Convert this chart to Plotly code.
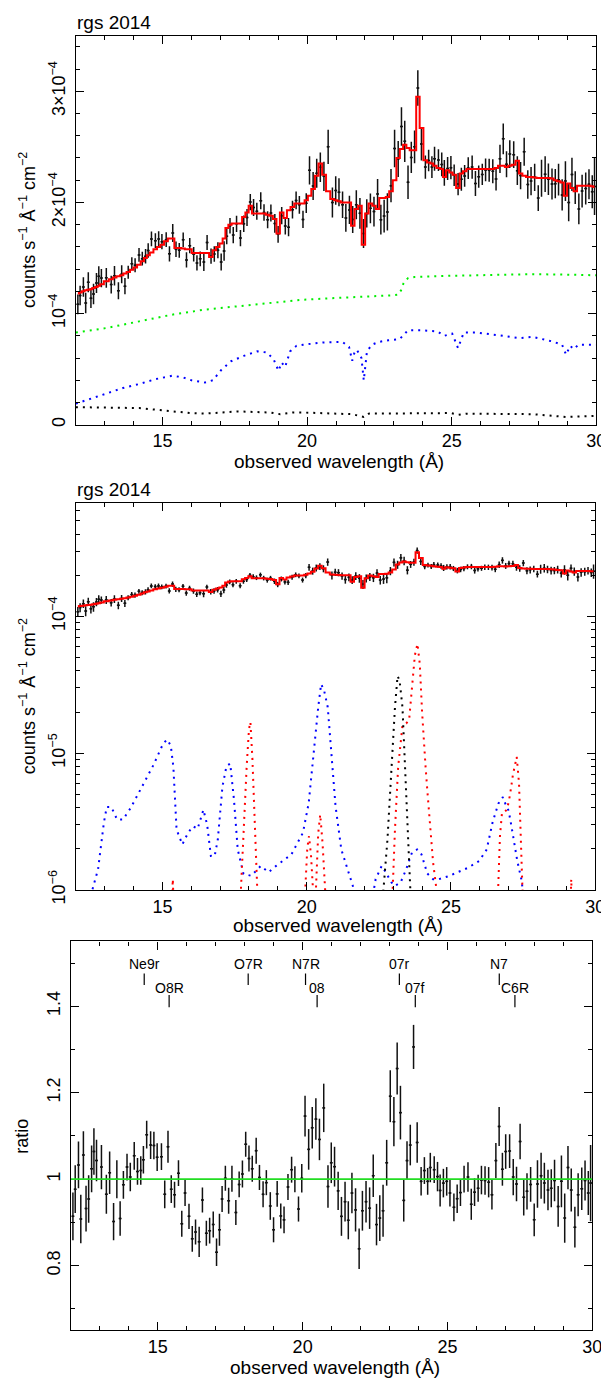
import numpy as np
import plotly.graph_objects as go

# ---------------- data ----------------
wavelength = [
    12.068, 12.147, 12.260, 12.340, 12.430, 12.521, 12.611, 12.713, 12.793, 12.883,
    13.053, 13.223, 13.336, 13.472, 13.585, 13.698, 13.811, 13.936, 14.049, 14.185,
    14.298, 14.411, 14.502, 14.615, 14.751, 14.864, 14.977, 15.125, 15.238, 15.351,
    15.464, 15.577, 15.713, 15.827, 15.940, 16.076, 16.189, 16.302, 16.427, 16.540,
    16.676, 16.789, 16.913, 17.027, 17.128, 17.219, 17.332, 17.445, 17.559, 17.694,
    17.808, 17.921, 18.034, 18.147, 18.260, 18.396, 18.509, 18.634, 18.747, 18.883,
    18.996, 19.121, 19.245, 19.358, 19.494, 19.619, 19.732, 19.857, 19.970, 20.083,
    20.208, 20.332, 20.457, 20.581, 20.728, 20.875, 20.989, 21.102, 21.226, 21.340,
    21.464, 21.577, 21.702, 21.827, 21.951, 22.064, 22.189, 22.313, 22.438, 22.551,
    22.664, 22.777, 22.902, 23.026, 23.151, 23.264, 23.377, 23.491, 23.604, 23.717,
    23.830, 23.955, 24.091, 24.204, 24.317, 24.408, 24.543, 24.657, 24.747, 24.860,
    24.974, 25.087, 25.223, 25.336, 25.449, 25.574, 25.709, 25.823, 25.936, 26.060,
    26.174, 26.298, 26.423, 26.536, 26.672, 26.785, 26.898, 27.011, 27.147, 27.272,
    27.385, 27.509, 27.634, 27.747, 27.872, 27.996, 28.109, 28.234, 28.347, 28.472,
    28.585, 28.698, 28.823, 28.936, 29.049, 29.162, 29.275, 29.400, 29.513, 29.638,
    29.751, 29.864, 29.943]

# flux in units of 1e-4 counts s^-1 A^-1 cm^-2
flux = [
    1.083, 1.163, 1.240, 1.096, 1.282, 1.139, 1.176, 1.276, 1.335, 1.320,
    1.322, 1.261, 1.340, 1.206, 1.354, 1.247, 1.372, 1.449, 1.435, 1.528,
    1.494, 1.516, 1.568, 1.672, 1.656, 1.672, 1.647, 1.665, 1.538, 1.725,
    1.579, 1.569, 1.664, 1.483, 1.611, 1.534, 1.456, 1.493, 1.465, 1.640,
    1.517, 1.536, 1.569, 1.464, 1.563, 1.696, 1.791, 1.706, 1.808, 1.679,
    1.809, 1.864, 2.003, 1.955, 1.921, 2.015, 1.909, 1.844, 1.905, 1.811,
    1.713, 1.881, 1.789, 1.777, 1.935, 2.018, 1.979, 1.847, 1.993, 2.289,
    2.148, 2.263, 2.317, 2.235, 2.500, 2.000, 2.107, 2.091, 1.979, 1.861,
    1.933, 1.847, 1.979, 1.902, 1.720, 1.901, 1.947, 1.918, 2.075, 1.845,
    1.877, 1.915, 2.151, 2.486, 2.391, 2.683, 2.550, 2.181, 2.405, 2.500,
    3.030, 2.525, 2.318, 2.377, 2.318, 2.393, 2.381, 2.342, 2.266, 2.305,
    2.313, 2.244, 2.165, 2.209, 2.239, 2.309, 2.318, 2.170, 2.232, 2.252,
    2.293, 2.290, 2.280, 2.212, 2.392, 2.572, 2.344, 2.435, 2.430, 2.286,
    2.242, 2.457, 2.162, 2.192, 2.226, 2.039, 2.218, 2.254, 2.209, 2.166,
    2.169, 2.205, 2.068, 2.192, 2.000, 2.252, 2.134, 1.942, 2.102, 2.126,
    2.163, 2.096, 2.143]

flux_err = [
    0.088, 0.088, 0.088, 0.092, 0.090, 0.088, 0.092, 0.090, 0.092, 0.082,
    0.089, 0.080, 0.088, 0.077, 0.081, 0.074, 0.059, 0.059, 0.063, 0.062,
    0.062, 0.066, 0.065, 0.066, 0.066, 0.068, 0.068, 0.066, 0.069, 0.080,
    0.070, 0.066, 0.066, 0.068, 0.068, 0.066, 0.069, 0.066, 0.081, 0.068,
    0.068, 0.070, 0.072, 0.076, 0.088, 0.072, 0.070, 0.073, 0.073, 0.072,
    0.074, 0.077, 0.073, 0.076, 0.076, 0.077, 0.074, 0.077, 0.076, 0.084,
    0.076, 0.078, 0.077, 0.082, 0.080, 0.080, 0.080, 0.078, 0.089, 0.127,
    0.127, 0.131, 0.132, 0.132, 0.154, 0.135, 0.128, 0.126, 0.120, 0.124,
    0.127, 0.122, 0.130, 0.138, 0.130, 0.127, 0.134, 0.134, 0.136, 0.134,
    0.147, 0.167, 0.149, 0.169, 0.162, 0.173, 0.185, 0.151, 0.140, 0.147,
    0.159, 0.147, 0.104, 0.097, 0.097, 0.107, 0.097, 0.107, 0.116, 0.104,
    0.104, 0.097, 0.100, 0.103, 0.097, 0.097, 0.105, 0.112, 0.100, 0.096,
    0.103, 0.103, 0.108, 0.105, 0.127, 0.139, 0.117, 0.124, 0.120, 0.130,
    0.123, 0.126, 0.128, 0.128, 0.122, 0.116, 0.166, 0.161, 0.142, 0.140,
    0.132, 0.143, 0.140, 0.178, 0.169, 0.149, 0.147, 0.139, 0.147, 0.144,
    0.135, 0.149, 0.257]

model = [
    1.18, 1.19, 1.20, 1.21, 1.215, 1.22, 1.23, 1.24, 1.25, 1.265,
    1.29, 1.31, 1.325, 1.335, 1.345, 1.36, 1.375, 1.395, 1.415, 1.44,
    1.47, 1.50, 1.525, 1.55, 1.58, 1.60, 1.62, 1.65, 1.675, 1.675,
    1.59, 1.59, 1.585, 1.58, 1.58, 1.545, 1.545, 1.545, 1.545, 1.545,
    1.51, 1.57, 1.60, 1.63, 1.675, 1.77, 1.80, 1.81, 1.81, 1.81,
    1.87, 1.91, 1.97, 1.90, 1.90, 1.90, 1.90, 1.89, 1.88, 1.85,
    1.72, 1.91, 1.86, 1.93, 1.96, 1.99, 1.99, 1.99, 2.02, 2.06,
    2.12, 2.24, 2.35, 2.25, 2.10, 2.03, 2.02, 2.01, 2.00, 2.00,
    2.00, 1.79, 1.94, 1.97, 1.62, 1.90, 1.99, 1.97, 1.94, 2.04,
    2.04, 2.05, 2.10, 2.20, 2.40, 2.48, 2.52, 2.49, 2.47, 2.47,
    2.95, 2.67, 2.38, 2.36, 2.35, 2.33, 2.31, 2.30, 2.23, 2.29,
    2.27, 2.25, 2.13, 2.26, 2.28, 2.30, 2.30, 2.30, 2.30, 2.30,
    2.30, 2.30, 2.30, 2.31, 2.33, 2.33, 2.32, 2.33, 2.34, 2.375,
    2.26, 2.24, 2.23, 2.23, 2.225, 2.22, 2.22, 2.22, 2.22, 2.215,
    2.20, 2.19, 2.18, 2.06, 2.17, 2.13, 2.10, 2.15, 2.15, 2.15,
    2.15, 2.145, 2.14]

ratio = [
    0.914, 0.977, 1.033, 0.908, 1.056, 0.932, 0.954, 1.024, 1.064, 1.043,
    1.028, 0.965, 1.015, 0.902, 1.000, 0.909, 0.987, 1.028, 1.005, 1.054,
    1.018, 1.020, 1.045, 1.103, 1.079, 1.078, 1.051, 1.052, 0.965, 1.075,
    0.977, 0.964, 1.014, 0.897, 0.968, 0.914, 0.862, 0.878, 0.855, 0.952,
    0.875, 0.881, 0.895, 0.831, 0.883, 0.954, 1.002, 0.950, 1.001, 0.923,
    0.988, 1.012, 1.081, 1.048, 1.024, 1.066, 1.004, 0.965, 0.992, 0.938,
    0.883, 0.966, 0.915, 0.906, 0.982, 1.022, 1.000, 0.931, 1.002, 1.146,
    1.069, 1.119, 1.139, 1.092, 1.165, 0.983, 1.038, 1.029, 0.973, 0.914,
    0.948, 0.905, 0.968, 0.929, 0.839, 0.927, 0.948, 0.933, 1.008, 0.895,
    0.910, 0.927, 1.038, 1.192, 1.133, 1.256, 1.154, 0.951, 1.043, 1.079,
    1.306, 1.085, 0.995, 1.020, 0.995, 1.027, 1.022, 1.006, 0.974, 0.991,
    0.995, 0.968, 0.935, 0.955, 0.969, 1.000, 1.005, 0.942, 0.970, 0.979,
    0.998, 0.997, 0.993, 0.964, 1.043, 1.122, 1.023, 1.064, 1.065, 1.005,
    0.989, 1.087, 0.958, 0.972, 0.988, 0.906, 0.989, 1.008, 0.991, 0.975,
    0.979, 0.997, 0.937, 0.995, 0.910, 1.027, 0.975, 0.889, 0.964, 0.978,
    0.997, 0.968, 0.991]

ratio_err = [
    0.055, 0.055, 0.054, 0.056, 0.055, 0.053, 0.055, 0.054, 0.054, 0.048,
    0.051, 0.045, 0.049, 0.043, 0.044, 0.040, 0.032, 0.031, 0.033, 0.032,
    0.031, 0.033, 0.032, 0.032, 0.032, 0.032, 0.032, 0.031, 0.032, 0.037,
    0.032, 0.030, 0.030, 0.030, 0.030, 0.029, 0.030, 0.029, 0.035, 0.029,
    0.029, 0.030, 0.030, 0.032, 0.037, 0.030, 0.029, 0.030, 0.030, 0.029,
    0.030, 0.031, 0.029, 0.030, 0.030, 0.030, 0.029, 0.030, 0.029, 0.032,
    0.029, 0.030, 0.029, 0.031, 0.030, 0.030, 0.030, 0.029, 0.033, 0.047,
    0.047, 0.048, 0.048, 0.048, 0.056, 0.049, 0.047, 0.046, 0.044, 0.045,
    0.046, 0.044, 0.047, 0.050, 0.047, 0.046, 0.048, 0.048, 0.049, 0.048,
    0.053, 0.060, 0.053, 0.060, 0.057, 0.060, 0.062, 0.049, 0.045, 0.047,
    0.051, 0.047, 0.033, 0.031, 0.031, 0.034, 0.031, 0.034, 0.037, 0.033,
    0.033, 0.031, 0.032, 0.033, 0.031, 0.031, 0.034, 0.036, 0.032, 0.031,
    0.033, 0.033, 0.035, 0.034, 0.041, 0.045, 0.038, 0.040, 0.039, 0.042,
    0.040, 0.041, 0.042, 0.042, 0.040, 0.038, 0.055, 0.053, 0.047, 0.047,
    0.044, 0.048, 0.047, 0.060, 0.057, 0.050, 0.050, 0.047, 0.050, 0.049,
    0.046, 0.051, 0.088]

# panel 1 model components (1e-4 units)
green_wl = [12.0, 13.05, 14.19, 15.32, 16.46, 17.59, 18.73, 19.86, 21.0, 22.0, 23.0,
            23.15, 23.25, 23.33, 23.4, 23.5, 23.72, 24.96, 26.5, 27.8, 29.0, 30.0]
green_val = [0.83, 0.87, 0.93, 0.99, 1.036, 1.065, 1.10, 1.125, 1.14, 1.15, 1.165,
             1.17, 1.21, 1.27, 1.30, 1.32, 1.33, 1.34, 1.35, 1.355, 1.35, 1.345]

blue_wl = [12.0, 12.5, 13.05, 13.62, 14.19, 14.75, 15.32, 15.66, 16.0, 16.46, 16.74,
           17.02, 17.36, 17.81, 18.27, 18.61, 18.84, 19.01, 19.12, 19.24, 19.41, 19.63,
           19.86, 20.54, 21.22, 21.45, 21.56, 21.66, 21.73, 21.88, 21.96, 22.07, 22.24,
           22.47, 22.81, 23.2, 23.49, 23.94, 24.51, 24.74, 25.02, 25.22, 25.42, 25.87,
           26.67, 27.35, 27.8, 28.48, 28.82, 28.96, 29.1, 29.22, 29.39, 29.95, 30.0]
blue_val = [0.19, 0.23, 0.28, 0.33, 0.366, 0.41, 0.44, 0.43, 0.40, 0.38, 0.40,
            0.49, 0.57, 0.62, 0.66, 0.65, 0.59, 0.485, 0.56, 0.52, 0.66, 0.71,
            0.72, 0.74, 0.745, 0.70, 0.575, 0.67, 0.67, 0.60, 0.40, 0.66, 0.72,
            0.745, 0.76, 0.77, 0.85, 0.85, 0.84, 0.80, 0.82, 0.69, 0.83, 0.83,
            0.80, 0.78, 0.79, 0.75, 0.72, 0.63, 0.71, 0.68, 0.72, 0.72, 0.72]

black_wl = [12.0, 14.19, 16.0, 16.46, 17.59, 18.73, 19.07, 19.5, 19.86, 21.56, 21.96,
            22.13, 24.96, 25.24, 25.5, 27.8, 28.96, 29.95, 30.0]
black_val = [0.158, 0.15, 0.104, 0.10, 0.12, 0.11, 0.095, 0.11, 0.11, 0.095, 0.07,
             0.10, 0.105, 0.09, 0.10, 0.095, 0.07, 0.08, 0.08]

# panel 2 line components (absolute units)
p2_blue_wl = [12.50, 12.57, 12.77, 12.97, 13.07, 13.23, 13.43, 13.63, 13.90, 14.29, 14.69,
              15.02, 15.16, 15.29, 15.38, 15.49, 15.69, 15.89, 16.06, 16.22, 16.42, 16.55,
              16.68, 16.81, 16.92, 17.08, 17.22, 17.35, 17.48, 17.61, 17.81, 18.08, 18.41,
              18.68, 18.94, 19.47, 19.87, 20.07, 20.27, 20.40, 20.50, 20.60, 20.73, 20.86,
              21.00, 21.20, 21.60, 21.75, 22.25, 22.39, 22.60, 22.73, 22.93, 23.06, 23.26,
              23.45, 23.65, 23.83, 23.98, 24.18, 24.38, 24.58, 24.91, 25.58, 25.98, 26.24,
              26.44, 26.64, 26.80, 26.90, 27.00, 27.10, 27.30, 27.44, 27.55]
p2_blue_val = [5e-7, 1.0e-6, 1.42e-6, 3.1e-6, 4.04e-6, 4.04e-6, 3.27e-6, 3.27e-6, 3.98e-6, 5.7e-6, 8.2e-6,
               1.17e-5, 1.26e-5, 1.14e-5, 7.9e-6, 2.77e-6, 2.15e-6, 2.62e-6, 2.92e-6, 2.8e-6, 3.86e-6, 3.0e-6,
               1.77e-6, 1.77e-6, 2.34e-6, 5.7e-6, 8.05e-6, 8.4e-6, 4.57e-6, 1.98e-6, 1.31e-6, 1.27e-6, 1.5e-6,
               1.35e-6, 1.5e-6, 1.82e-6, 2.62e-6, 4.32e-6, 1.24e-5, 2.17e-5, 3.2e-5, 2.9e-5, 2.17e-5, 9.4e-6,
               4.1e-6, 1.98e-6, 1.07e-6, 8e-7, 8e-7, 1.2e-6, 1.5e-6, 1.36e-6, 1.14e-6, 1.07e-6, 1.14e-6,
               1.42e-6, 1.88e-6, 1.98e-6, 1.82e-6, 1.32e-6, 1.2e-6, 1.2e-6, 1.26e-6, 1.45e-6, 1.63e-6, 1.98e-6,
               3.1e-6, 4.27e-6, 4.78e-6, 4.2e-6, 3.8e-6, 2.9e-6, 1.63e-6, 1.2e-6, 8e-7]

p2_red_wl = [15.25, 15.36, 15.45, 17.65, 17.72, 17.82, 17.92, 18.00, 18.05, 18.12, 18.20,
             18.30, 18.38, 19.88, 19.95, 20.02, 20.08, 20.15, 20.23, 20.28, 20.32, 20.40,
             20.47, 20.55, 20.64, 20.70, 22.92, 22.98, 23.06, 23.17, 23.32, 23.45, 23.55,
             23.65, 23.75, 23.84, 23.92, 24.00, 24.05, 24.12, 24.18, 24.28, 24.38, 24.50,
             24.58, 26.55, 26.63, 26.70, 26.77, 26.85, 26.95, 27.05, 27.15, 27.28, 27.36,
             27.44, 27.50, 27.56, 29.10, 29.17, 29.24]
p2_red_val = [3e-7, 1.2e-6, 3e-7, 3e-7, 1.0e-6, 3.0e-6, 8.0e-6, 1.5e-5, 1.69e-5, 9e-6, 3.5e-6,
              1.0e-6, 3e-7, 3e-7, 1.0e-6, 2.0e-6, 2.48e-6, 1.8e-6, 1.0e-6, 6e-7, 1.0e-6, 2.6e-6,
              3.56e-6, 2.2e-6, 1.0e-6, 3e-7, 3e-7, 1.0e-6, 2.77e-6, 7.9e-6, 1.6e-5, 1.65e-5, 1.75e-5,
              3.0e-5, 5.2e-5, 6.3e-5, 4.5e-5, 2.0e-5, 1.24e-5, 8.0e-6, 5.4e-6, 3.0e-6, 1.6e-6, 1.0e-6,
              3e-7, 3e-7, 1.0e-6, 2.5e-6, 3.67e-6, 3.7e-6, 3.9e-6, 5.0e-6, 7.0e-6, 9.4e-6, 6.0e-6,
              2.0e-6, 1.0e-6, 3e-7, 3e-7, 1.2e-6, 3e-7]

p2_black_wl = [22.55, 22.66, 22.80, 22.92, 23.06, 23.15, 23.22, 23.32, 23.45, 23.55, 23.62, 23.70]
p2_black_val = [3e-7, 1.0e-6, 2.34e-6, 7.2e-6, 2.17e-5, 3.67e-5, 3.4e-5, 2.17e-5, 5.4e-6, 2.0e-6, 1.0e-6, 3e-7]

# line identifications (panel 3)
line_names = ["Ne9r", "O8R", "O7R", "N7R", "08", "07r", "07f", "N7", "C6R"]
line_wl = [14.53, 15.39, 18.12, 20.10, 20.50, 23.34, 23.89, 26.79, 27.33]
line_row = [0, 1, 0, 0, 1, 0, 1, 0, 1]

# ---------------- layout geometry (pixels) ----------------
W, H = 609, 1384
FONT = "Liberation Sans"
P1 = dict(l=69, r=598, t=28, b=421)
P2 = dict(l=69, r=597, t=500, b=891)
P3 = dict(l=64, r=594, t=943, b=1336)

def px2paper_x(p):
    return p / W

def px2paper_y(p):
    return 1 - p / H

def xdom(P):
    return [px2paper_x(P["l"]), px2paper_x(P["r"])]

def ydom(P):
    return [px2paper_y(P["b"]), px2paper_y(P["t"])]

SCALE = 1e-4
fl = np.array(flux) * SCALE
fle = np.array(flux_err) * SCALE
mo = np.array(model) * SCALE

fig = go.Figure()

DOT = "2px,5px"
# ----- panel 1 -----
fig.add_trace(go.Scatter(x=green_wl, y=np.array(green_val) * SCALE, mode="lines",
                         line=dict(color="#00ee00", width=2, dash=DOT), xaxis="x", yaxis="y"))
fig.add_trace(go.Scatter(x=blue_wl, y=np.array(blue_val) * SCALE, mode="lines",
                         line=dict(color="#0000ff", width=2, dash=DOT), xaxis="x", yaxis="y"))
fig.add_trace(go.Scatter(x=black_wl, y=np.array(black_val) * SCALE, mode="lines",
                         line=dict(color="#000000", width=2, dash=DOT), xaxis="x", yaxis="y"))

def data_trace(y, err, xa, ya):
    return go.Scatter(x=wavelength, y=y, mode="markers", xaxis=xa, yaxis=ya,
                      marker=dict(size=2, color="#111111"),
                      error_y=dict(type="data", array=err, visible=True, width=0,
                                   thickness=1.5, color="#111111"),
                      error_x=dict(type="constant", value=0.05, visible=True, width=0,
                                   thickness=1.5, color="#111111"))

fig.add_trace(data_trace(fl, fle, "x", "y"))
fig.add_trace(go.Scatter(x=wavelength, y=mo, mode="lines", xaxis="x", yaxis="y",
                         line=dict(color="#ff0000", width=2, shape="hvh")))

# ----- panel 2 -----
fig.add_trace(go.Scatter(x=p2_blue_wl, y=p2_blue_val, mode="lines", xaxis="x2", yaxis="y2",
                         line=dict(color="#0000ff", width=2, dash=DOT)))
fig.add_trace(go.Scatter(x=p2_red_wl, y=p2_red_val, mode="lines", xaxis="x2", yaxis="y2",
                         line=dict(color="#ff0000", width=2, dash=DOT)))
fig.add_trace(go.Scatter(x=p2_black_wl, y=p2_black_val, mode="lines", xaxis="x2", yaxis="y2",
                         line=dict(color="#000000", width=2, dash=DOT)))
fig.add_trace(data_trace(fl, fle, "x2", "y2"))
fig.add_trace(go.Scatter(x=wavelength, y=mo, mode="lines", xaxis="x2", yaxis="y2",
                         line=dict(color="#ff0000", width=2, shape="hvh")))

# ----- panel 3 -----
fig.add_trace(data_trace(ratio, ratio_err, "x3", "y3"))

# ---------------- axes ----------------
tickfont = dict(family=FONT, size=18, color="black")

def xaxis(P, anchor):
    return dict(domain=xdom(P), anchor=anchor, range=[12, 30], tickmode="linear", tick0=0, dtick=5,
                ticks="inside", ticklen=8, tickwidth=1, tickcolor="black",
                showline=True, linewidth=1.3, linecolor="black", mirror="allticks",
                showgrid=False, zeroline=False, tickfont=tickfont,
                minor=dict(tickmode="linear", tick0=0, dtick=1, ticks="inside", ticklen=4,
                           tickwidth=1, tickcolor="black", showgrid=False))

def ybase(P, anchor):
    return dict(domain=ydom(P), anchor=anchor, ticks="inside", ticklen=8, tickwidth=1,
                tickcolor="black", showline=True, linewidth=1.3, linecolor="black",
                mirror="allticks", showgrid=False, zeroline=False, tickfont=tickfont,
                tickangle=-90, ticklabelstandoff=3)

y1 = ybase(P1, "x")
y1.update(range=[0, 3.5e-4], tickmode="array", tickvals=[0, 1e-4, 2e-4, 3e-4],
          ticktext=["0", "10<sup>−4</sup>", "2×10<sup>−4</sup>", "3×10<sup>−4</sup>"],
          minor=dict(tickmode="array", tickvals=[k * 0.2e-4 for k in range(1, 18) if k % 5],
                     ticks="inside", ticklen=4, tickwidth=1, tickcolor="black", showgrid=False))

y2 = ybase(P2, "x2")
y2.update(type="log", range=[-6, -3.17], tickmode="array", tickvals=[1e-6, 1e-5, 1e-4],
          ticktext=["10<sup>−6</sup>", "10<sup>−5</sup>", "10<sup>−4</sup>"],
          minor=dict(tickmode="array",
                     tickvals=[m * 10.0 ** e for e in (-6, -5, -4) for m in range(2, 10)
                               if m * 10.0 ** e < 6.7e-4],
                     ticks="inside", ticklen=4, tickwidth=1, tickcolor="black", showgrid=False))

y3 = ybase(P3, "x3")
y3.update(range=[0.65, 1.55], tickmode="array", tickvals=[0.8, 1.0, 1.2, 1.4],
          ticktext=["0.8", "1", "1.2", "1.4"],
          minor=dict(tickmode="array", tickvals=[0.7, 0.9, 1.1, 1.3, 1.5],
                     ticks="inside", ticklen=4, tickwidth=1, tickcolor="black", showgrid=False))

# ---------------- annotations & shapes ----------------
annotations = []
def ann(text, x, y, size=19, angle=0, xanchor="center"):
    annotations.append(dict(text=text, x=px2paper_x(x), y=px2paper_y(y), xref="paper", yref="paper",
                            showarrow=False, textangle=angle, xanchor=xanchor, yanchor="middle",
                            font=dict(family=FONT, size=size, color="black")))

ann("rgs 2014", 68, 15, size=19, xanchor="left")
ann("rgs 2014", 68, 486, size=19, xanchor="left")
xtitle = "observed wavelength (Å)"
ann(xtitle, (P1["l"] + P1["r"]) / 2 + 3, 458)
ann(xtitle, (P2["l"] + P2["r"]) / 2 + 3, 927)
ann(xtitle, (P3["l"] + P3["r"]) / 2 + 3, 1373)
ytitle = "counts s<sup>−1</sup> Å<sup>−1</sup> cm<sup>−2</sup>"
ann(ytitle, 20, (P1["t"] + P1["b"]) / 2, size=18, angle=-90)
ann(ytitle, 20, (P2["t"] + P2["b"]) / 2, size=18, angle=-90)
ann("ratio", 14, (P3["t"] + P3["b"]) / 2, size=18, angle=-90)

row_text_y = [1.497, 1.443]
row_tick = [(1.476, 1.449), (1.426, 1.398)]
shapes = []
for name, wl, row in zip(line_names, line_wl, line_row):
    annotations.append(dict(text=name, x=wl, y=row_text_y[row], xref="x3", yref="y3",
                            showarrow=False, xanchor="center", yanchor="middle",
                            font=dict(family=FONT, size=14, color="black")))
    y_top, y_bot = row_tick[row]
    shapes.append(dict(type="line", xref="x3", yref="y3", x0=wl, x1=wl, y0=y_bot, y1=y_top,
                       line=dict(color="black", width=1.2)))

shapes.append(dict(type="line", xref="x3", yref="y3", x0=12, x1=30, y0=1, y1=1,
                   line=dict(color="#22dd22", width=1.8)))

fig.update_layout(
    width=W, height=H, margin=dict(l=0, r=0, t=0, b=0),
    paper_bgcolor="white", plot_bgcolor="white", showlegend=False,
    xaxis=xaxis(P1, "y"), yaxis=y1,
    xaxis2=xaxis(P2, "y2"), yaxis2=y2,
    xaxis3=xaxis(P3, "y3"), yaxis3=y3,
    annotations=annotations, shapes=shapes,
    font=dict(family=FONT, color="black"),
)

fig.write_html("out.html")
